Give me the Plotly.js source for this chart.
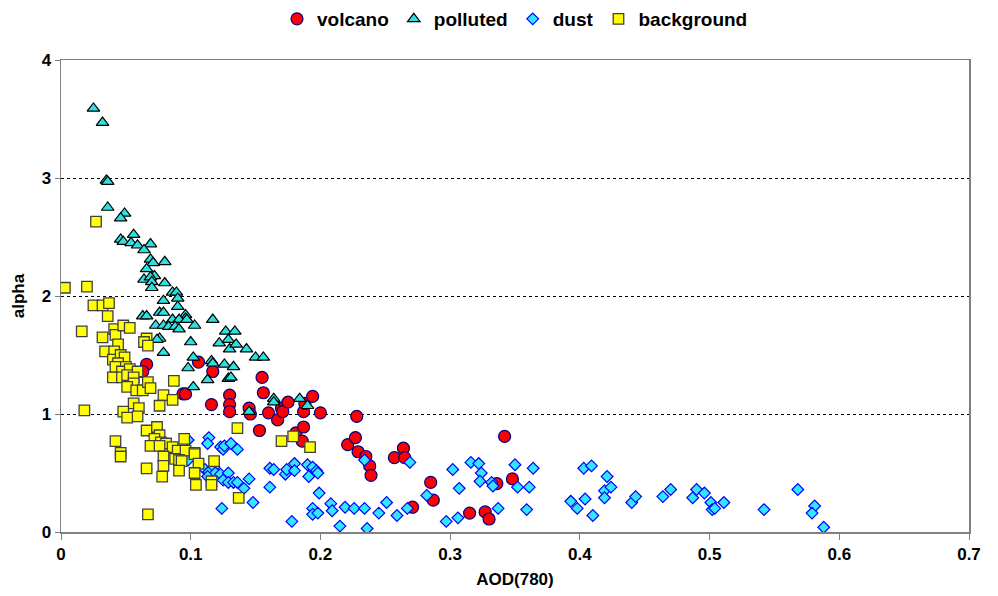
<!DOCTYPE html>
<html>
<head>
<meta charset="utf-8">
<script src="https://cdn.plot.ly/plotly-3.0.1.min.js"></script>
<style>
  html, body { margin: 0; padding: 0; background: #ffffff; }
  #chart { width: 998px; height: 596px; }
</style>
</head>
<body>
<div id="chart"></div>
<script>
// Aerosol classes: Angstrom exponent (alpha) versus aerosol optical depth at 780 nm
const volcanoAOD = [0.066, 0.063, 0.094, 0.096, 0.106, 0.117, 0.116, 0.130, 0.130, 0.130,
  0.145, 0.146, 0.153, 0.155, 0.156, 0.160, 0.167, 0.170, 0.171, 0.175,
  0.181, 0.186, 0.187, 0.187, 0.188, 0.194, 0.200, 0.221, 0.227, 0.228,
  0.229, 0.235, 0.238, 0.239, 0.257, 0.264, 0.265, 0.271, 0.285, 0.287,
  0.315, 0.327, 0.330, 0.336, 0.342, 0.348];
const volcanoAlpha = [1.42, 1.36, 1.17, 1.17, 1.44, 1.36, 1.08, 1.16, 1.08, 1.02,
  1.05, 1.00, 0.86, 1.31, 1.18, 1.01, 0.95, 1.05, 1.02, 1.10,
  0.84, 0.77, 0.89, 1.02, 1.09, 1.15, 1.01, 0.74, 0.80, 0.98,
  0.68, 0.64, 0.56, 0.48, 0.63, 0.71, 0.63, 0.21, 0.42, 0.27,
  0.16, 0.17, 0.11, 0.41, 0.81, 0.45];

const pollutedAOD = [0.025, 0.032, 0.035, 0.036, 0.036, 0.049, 0.046, 0.046, 0.048, 0.056,
  0.054, 0.059, 0.069, 0.064, 0.069, 0.071, 0.080, 0.066, 0.072, 0.064,
  0.069, 0.070, 0.070, 0.080, 0.086, 0.089, 0.090, 0.079, 0.090, 0.063,
  0.066, 0.076, 0.079, 0.096, 0.096, 0.117, 0.086, 0.091, 0.073, 0.079,
  0.083, 0.088, 0.091, 0.103, 0.097, 0.127, 0.134, 0.076, 0.074, 0.100,
  0.122, 0.129, 0.130, 0.135, 0.079, 0.102, 0.116, 0.117, 0.098, 0.126,
  0.133, 0.113, 0.102, 0.129, 0.131, 0.143, 0.150, 0.156, 0.164, 0.164,
  0.184, 0.190, 0.145];
const pollutedAlpha = [3.59, 3.47, 2.98, 2.97, 2.75, 2.70, 2.66, 2.48, 2.46, 2.52,
  2.45, 2.43, 2.44, 2.39, 2.31, 2.28, 2.29, 2.23, 2.17, 2.14,
  2.16, 2.12, 2.07, 2.11, 2.03, 2.03, 1.98, 1.96, 1.91, 1.83,
  1.83, 1.86, 1.86, 1.84, 1.81, 1.80, 1.80, 1.80, 1.75, 1.75,
  1.74, 1.74, 1.72, 1.75, 1.80, 1.70, 1.70, 1.64, 1.63, 1.61,
  1.60, 1.63, 1.55, 1.59, 1.52, 1.48, 1.45, 1.43, 1.39, 1.42,
  1.40, 1.29, 1.23, 1.30, 1.31, 1.55, 1.48, 1.48, 1.13, 1.10,
  1.13, 1.07, 1.02];

const dustAOD = [0.098, 0.114, 0.113, 0.123, 0.125, 0.126, 0.131, 0.136, 0.098, 0.111,
  0.114, 0.118, 0.119, 0.113, 0.123, 0.129, 0.125, 0.129, 0.133, 0.136,
  0.124, 0.145, 0.141, 0.148, 0.161, 0.164, 0.161, 0.173, 0.174, 0.180,
  0.180, 0.178, 0.190, 0.194, 0.197, 0.198, 0.191, 0.199, 0.194, 0.194,
  0.198, 0.208, 0.209, 0.215, 0.219, 0.226, 0.234, 0.236, 0.234, 0.245,
  0.251, 0.259, 0.267, 0.269, 0.282, 0.297, 0.302, 0.307, 0.306, 0.316,
  0.322, 0.324, 0.323, 0.332, 0.333, 0.337, 0.350, 0.352, 0.361, 0.364,
  0.359, 0.393, 0.398, 0.404, 0.403, 0.409, 0.410, 0.421, 0.419, 0.424,
  0.419, 0.440, 0.443, 0.464, 0.470, 0.487, 0.490, 0.496, 0.501, 0.502,
  0.504, 0.511, 0.542, 0.568, 0.581, 0.579, 0.588];
const dustAlpha = [0.78, 0.80, 0.75, 0.72, 0.70, 0.73, 0.75, 0.70, 0.61, 0.53,
  0.51, 0.55, 0.50, 0.47, 0.49, 0.50, 0.44, 0.42, 0.42, 0.42,
  0.20, 0.45, 0.37, 0.25, 0.54, 0.53, 0.38, 0.49, 0.53, 0.58,
  0.52, 0.09, 0.57, 0.55, 0.52, 0.50, 0.47, 0.33, 0.20, 0.15,
  0.16, 0.24, 0.18, 0.05, 0.21, 0.20, 0.20, 0.03, 0.61, 0.16,
  0.25, 0.14, 0.20, 0.59, 0.31, 0.09, 0.53, 0.37, 0.12, 0.59,
  0.58, 0.50, 0.43, 0.42, 0.39, 0.20, 0.57, 0.38, 0.38, 0.54,
  0.19, 0.26, 0.20, 0.28, 0.54, 0.56, 0.14, 0.47, 0.35, 0.38,
  0.29, 0.25, 0.30, 0.30, 0.36, 0.29, 0.36, 0.33, 0.25, 0.19,
  0.20, 0.25, 0.19, 0.36, 0.22, 0.16, 0.04];

const backgroundAOD = [0.027, 0.003, 0.020, 0.025, 0.032, 0.037, 0.036, 0.016, 0.032, 0.041,
  0.042, 0.048, 0.053, 0.044, 0.066, 0.064, 0.067, 0.034, 0.041, 0.040,
  0.046, 0.049, 0.044, 0.042, 0.050, 0.047, 0.053, 0.059, 0.040, 0.047,
  0.051, 0.056, 0.056, 0.051, 0.058, 0.063, 0.067, 0.069, 0.079, 0.087,
  0.086, 0.076, 0.056, 0.060, 0.059, 0.018, 0.048, 0.051, 0.066, 0.074,
  0.076, 0.072, 0.077, 0.081, 0.069, 0.076, 0.086, 0.095, 0.090, 0.096,
  0.103, 0.103, 0.042, 0.046, 0.046, 0.079, 0.088, 0.091, 0.093, 0.106,
  0.066, 0.079, 0.091, 0.103, 0.078, 0.104, 0.067, 0.118, 0.116, 0.116,
  0.137, 0.136, 0.170, 0.179, 0.192];
const backgroundAlpha = [2.63, 2.07, 2.08, 1.92, 1.92, 1.94, 1.83, 1.70, 1.65, 1.72,
  1.67, 1.75, 1.73, 1.59, 1.64, 1.61, 1.58, 1.53, 1.53, 1.46,
  1.50, 1.48, 1.43, 1.40, 1.40, 1.36, 1.38, 1.36, 1.31, 1.31,
  1.33, 1.31, 1.26, 1.23, 1.20, 1.20, 1.27, 1.22, 1.16, 1.28,
  1.12, 1.07, 1.09, 1.05, 0.98, 1.03, 1.02, 0.97, 0.86, 0.89,
  0.82, 0.79, 0.76, 0.75, 0.73, 0.73, 0.72, 0.79, 0.69, 0.69,
  0.67, 0.66, 0.77, 0.67, 0.64, 0.64, 0.62, 0.61, 0.60, 0.58,
  0.54, 0.56, 0.52, 0.50, 0.47, 0.40, 0.15, 0.60, 0.43, 0.40,
  0.29, 0.88, 0.77, 0.81, 0.72];

const xTickVals = [0, 0.1, 0.2, 0.3, 0.4, 0.5, 0.6, 0.7];
const xTickText = ['0', '0.1', '0.2', '0.3', '0.4', '0.5', '0.6', '0.7'];
const yTickVals = [0, 1, 2, 3, 4];
const yTickText = ['0', '1', '2', '3', '4'];

const FONT = 'Liberation Sans, Arial, sans-serif';

const traces = [
  {
    name: 'volcano', x: volcanoAOD, y: volcanoAlpha, type: 'scatter', mode: 'markers',
    marker: { symbol: 'circle', size: 12, color: '#ff0000', line: { color: '#000080', width: 1.2 } }
  },
  {
    name: 'polluted', x: pollutedAOD, y: pollutedAlpha, type: 'scatter', mode: 'markers',
    marker: { symbol: 'triangle-up', size: 11, color: '#2ee0e0', line: { color: '#000000', width: 1.2 } }
  },
  {
    name: 'dust', x: dustAOD, y: dustAlpha, type: 'scatter', mode: 'markers',
    marker: { symbol: 'diamond', size: 9, color: '#33e6ff', line: { color: '#0000ff', width: 1.2 } }
  },
  {
    name: 'background', x: backgroundAOD, y: backgroundAlpha, type: 'scatter', mode: 'markers',
    marker: { symbol: 'square', size: 10.5, color: '#ffff00', line: { color: '#404040', width: 1.3 } }
  }
];

const layout = {
  width: 998, height: 596,
  margin: { l: 61, r: 29, t: 60, b: 64 },
  paper_bgcolor: '#ffffff', plot_bgcolor: '#ffffff',
  font: { family: FONT, color: '#000000' },
  showlegend: true,
  legend: {
    orientation: 'h', x: 0.5, xanchor: 'center', y: 1, yref: 'container', yanchor: 'top',
    font: { family: FONT, size: 19, weight: 'bold', color: '#000000' },
    itemwidth: 30, tracegroupgap: 0, bgcolor: 'rgba(0,0,0,0)'
  },
  xaxis: {
    range: [0, 0.7], tickvals: xTickVals, ticktext: xTickText,
    showgrid: false, zeroline: false,
    showline: true, linecolor: '#808080', linewidth: 1.5, mirror: true,
    ticks: 'outside', ticklen: 6, tickcolor: '#808080', tickwidth: 1,
    tickfont: { family: FONT, size: 17, weight: 'bold' },
    title: { text: 'AOD(780)', font: { family: FONT, size: 17, weight: 'bold' }, standoff: 10 }
  },
  yaxis: {
    range: [0, 4], tickvals: yTickVals, ticktext: yTickText,
    showgrid: true, gridcolor: '#000000', gridwidth: 1, griddash: 'dot',
    zeroline: false,
    showline: true, linecolor: '#808080', linewidth: 1.5, mirror: true,
    ticks: 'outside', ticklen: 5, tickcolor: '#808080', tickwidth: 1,
    tickfont: { family: FONT, size: 17, weight: 'bold' },
    title: { text: 'alpha', font: { family: FONT, size: 17, weight: 'bold' }, standoff: 12 }
  }
};

Plotly.newPlot('chart', traces, layout, { displayModeBar: false, staticPlot: true });
</script>
</body>
</html>
